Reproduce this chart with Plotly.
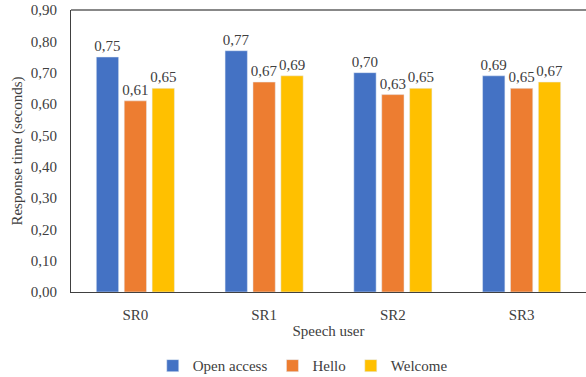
import plotly.graph_objects as go

categories = ["SR0", "SR1", "SR2", "SR3"]
open_access = [0.75, 0.77, 0.70, 0.69]
hello = [0.61, 0.67, 0.63, 0.65]
welcome = [0.65, 0.69, 0.65, 0.67]
y_ticks = [0.0, 0.1, 0.2, 0.3, 0.4, 0.5, 0.6, 0.7, 0.8, 0.9]

font_family = "Liberation Serif, Times New Roman, DejaVu Serif, serif"
text_color = "#404040"

fig = go.Figure()
for name, vals, color in [("Open access", open_access, "#4472C4"),
                          ("Hello", hello, "#ED7D31"),
                          ("Welcome", welcome, "#FFC000")]:
    fig.add_trace(go.Bar(
        x=categories, y=vals, name=name, marker_color=color,
        text=[f"{v:.2f}".replace(".", ",") for v in vals],
        textposition="outside", cliponaxis=False, constraintext="none",
        textfont=dict(family=font_family, size=15, color=text_color),
    ))

fig.update_layout(
    width=586, height=377,
    margin=dict(l=71, r=0, t=10, b=85, autoexpand=False),
    barmode="group", bargap=0.35, bargroupgap=0.2,
    plot_bgcolor="white", paper_bgcolor="white",
    separators=", ",
    font=dict(family=font_family, size=15, color=text_color),
    legend=dict(orientation="h", x=0.45, xanchor="center", y=-0.262, yanchor="middle",
                font=dict(family=font_family, size=15, color=text_color),
                itemwidth=30, traceorder="normal"),
    xaxis=dict(title=dict(text="Speech user", standoff=3,
                          font=dict(family=font_family, size=15, color=text_color)),
               showline=True, linecolor="#404040", linewidth=1, automargin=False,
               ticks="", ticklabelstandoff=9, tickfont=dict(family=font_family, size=15)),
    yaxis=dict(title=dict(text="Response time (seconds)", standoff=4,
                          font=dict(family=font_family, size=15, color=text_color)),
               range=[0, 0.9], tickvals=y_ticks, tickformat=".2f",
               showgrid=False, zeroline=False, automargin=False,
               showline=True, linecolor="#404040", linewidth=1,
               ticks="", ticklabelstandoff=10, tickfont=dict(family=font_family, size=15)),
)
fig.add_shape(type="line", xref="paper", yref="paper", x0=0, x1=1, y0=1, y1=1,
              line=dict(color="#888888", width=2))

fig.write_html("out.html")
